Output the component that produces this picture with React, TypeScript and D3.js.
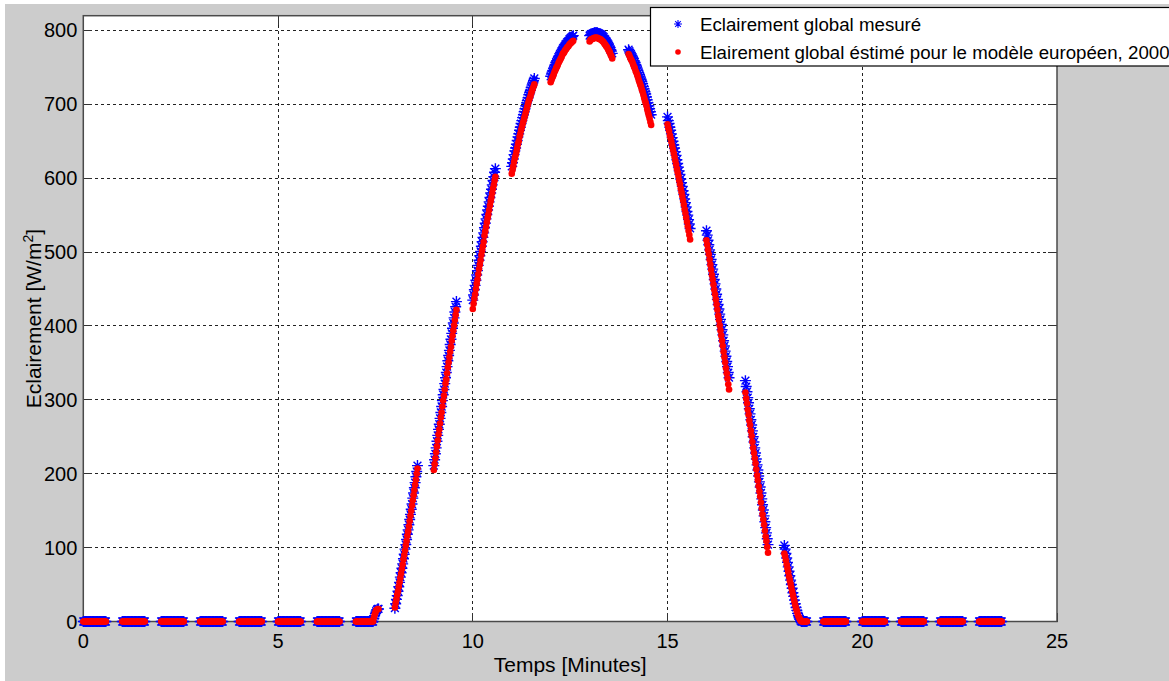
import React from 'react';
import * as d3 from 'd3';

// Minutes recorded within each hour (plotted as hour + minute/100).
const MINUTES = [0, 2, 4, 6, 8, 10, 12, 14, 16, 18, 20, 22, 24, 26, 28, 30, 32, 34, 36, 38, 40, 42, 44, 46, 48, 50, 52, 54, 56, 58];

// Hours with no sunlight: every reading is zero.
const NIGHT_HOURS = [0, 1, 2, 3, 4, 5, 6, 19, 20, 21, 22, 23];

// Daylight hours, one row of readings per hour.
const DAY_HOURS = [7, 8, 9, 10, 11, 12, 13, 14, 15, 16, 17, 18];

// Measured global irradiance (W/m²).
const MEASURED = [
  [0, 0, 0, 0, 0, 0, 0, 0, 0, 0, 0, 0, 0, 0, 0, 0, 0, 0, 0, 0, 0, 0, 0, 4, 8, 11, 14, 16, 17, 17],
  [18, 24, 30, 35, 41, 47, 53, 60, 66, 72, 78, 85, 91, 98, 104, 111, 118, 124, 131, 138, 145, 152, 159, 167, 174, 181, 188, 196, 203, 211],
  [211, 219, 227, 235, 244, 252, 260, 267, 275, 283, 291, 299, 307, 314, 322, 330, 337, 345, 353, 360, 367, 375, 382, 390, 397, 404, 411, 419, 426, 433],
  [435, 442, 449, 455, 462, 469, 475, 482, 489, 495, 501, 508, 514, 520, 526, 533, 539, 545, 551, 557, 562, 568, 574, 580, 585, 591, 597, 602, 608, 613],
  [616, 621, 626, 632, 637, 641, 646, 651, 656, 660, 665, 669, 674, 678, 682, 686, 690, 694, 698, 702, 705, 709, 713, 716, 719, 723, 726, 729, 732, 735],
  [738, 741, 744, 746, 749, 752, 754, 757, 759, 761, 764, 766, 768, 770, 772, 774, 776, 777, 779, 781, 782, 784, 785, 786, 788, 789, 790, 791, 792, 793],
  [793, 794, 795, 795, 796, 796, 797, 797, 797, 797, 797, 796, 796, 795, 795, 794, 793, 792, 791, 789, 788, 786, 785, 783, 781, 779, 777, 774, 772, 769],
  [774, 772, 770, 768, 766, 764, 762, 759, 757, 754, 752, 749, 746, 743, 740, 737, 734, 731, 728, 724, 721, 717, 714, 710, 706, 702, 698, 694, 690, 686],
  [683, 678, 674, 669, 665, 660, 655, 650, 645, 641, 636, 631, 625, 620, 615, 610, 605, 599, 594, 589, 583, 578, 572, 567, 561, 555, 550, 544, 538, 532],
  [529, 523, 516, 510, 503, 497, 490, 483, 477, 470, 463, 457, 450, 443, 436, 429, 423, 416, 409, 402, 395, 388, 380, 373, 366, 359, 352, 345, 337, 330],
  [326, 318, 311, 303, 296, 288, 281, 273, 266, 258, 250, 243, 235, 228, 220, 212, 205, 197, 189, 182, 174, 166, 158, 151, 143, 135, 127, 120, 112, 104],
  [103, 98, 92, 86, 80, 74, 68, 62, 56, 50, 45, 39, 34, 29, 24, 19, 15, 11, 8, 5, 3, 1, 0, 0, 0, 0, 0, 0, 0, 0],
];

// Global irradiance estimated with the European model, 2000 (W/m²).
const ESTIMATED = [
  [0, 0, 0, 0, 0, 0, 0, 0, 0, 0, 0, 0, 0, 0, 0, 0, 0, 0, 0, 0, 0, 0, 0, 5, 9, 12, 15, 16, 17, 17],
  [19, 25, 30, 36, 41, 47, 53, 59, 65, 71, 77, 84, 90, 96, 103, 109, 116, 122, 129, 136, 143, 150, 157, 164, 171, 178, 185, 192, 200, 207],
  [205, 213, 221, 229, 237, 245, 253, 260, 268, 276, 283, 291, 299, 306, 314, 322, 328, 336, 344, 351, 358, 365, 372, 380, 387, 394, 401, 408, 415, 422],
  [423, 430, 437, 443, 450, 457, 463, 470, 477, 483, 489, 496, 502, 508, 514, 522, 528, 534, 540, 546, 551, 557, 563, 569, 574, 580, 586, 591, 597, 602],
  [606, 611, 616, 622, 627, 631, 636, 641, 646, 650, 656, 660, 665, 669, 673, 677, 681, 685, 689, 693, 697, 701, 705, 708, 711, 715, 718, 721, 724, 727],
  [730, 733, 736, 738, 741, 744, 746, 749, 751, 753, 756, 758, 760, 762, 764, 767, 769, 770, 772, 774, 775, 777, 778, 779, 781, 782, 783, 784, 785, 786],
  [785, 787, 788, 788, 789, 789, 790, 790, 790, 790, 790, 789, 789, 788, 788, 787, 786, 785, 784, 782, 781, 779, 778, 776, 774, 772, 770, 767, 765, 762],
  [768, 766, 763, 761, 759, 757, 754, 751, 749, 745, 743, 740, 737, 733, 730, 727, 724, 720, 717, 713, 709, 705, 702, 698, 693, 689, 685, 681, 676, 672],
  [673, 668, 664, 658, 654, 649, 644, 639, 634, 629, 624, 619, 613, 608, 603, 597, 592, 586, 581, 576, 570, 564, 558, 553, 547, 541, 535, 529, 523, 517],
  [516, 510, 503, 497, 490, 483, 476, 469, 463, 456, 449, 443, 436, 429, 422, 414, 408, 401, 394, 387, 380, 373, 365, 358, 351, 343, 336, 329, 321, 314],
  [310, 302, 295, 287, 280, 272, 266, 258, 251, 243, 235, 228, 221, 214, 206, 198, 191, 183, 176, 169, 161, 153, 145, 138, 131, 123, 115, 109, 101, 93],
  [92, 88, 83, 77, 72, 67, 61, 56, 51, 46, 41, 36, 31, 27, 22, 18, 14, 10, 7, 5, 3, 1, 0, 0, 0, 0, 0, 0, 0, 0],
];

const X_TICKS = [0, 5, 10, 15, 20, 25];
const Y_TICKS = [0, 100, 200, 300, 400, 500, 600, 700, 800];

const LEGEND_LABELS = [
  'Eclairement global mesuré',
  'Elairement global éstimé pour le modèle européen, 2000',
];

const W = 1169;
const H = 681;
const FONT = '"Liberation Sans", Arial, Helvetica, sans-serif';

type Pt = { t: number; v: number };

function buildSeries(dayRows: number[][]): Pt[] {
  const pts: Pt[] = [];
  for (let h = 0; h < 24; h++) {
    const di = DAY_HOURS.indexOf(h);
    if (di < 0 && !NIGHT_HOURS.includes(h)) continue;
    MINUTES.forEach((m, i) => {
      pts.push({ t: h + m / 100, v: di >= 0 ? dayRows[di][i] : 0 });
    });
  }
  return pts;
}

// MATLAB-style '*' marker
const STAR = 'M-5.5,0H5.5M0,-5.5V5.5M-3.9,-3.9L3.9,3.9M-3.9,3.9L3.9,-3.9';

export default function App() {
  const x = d3.scaleLinear().domain([0, 25]).range([83.3, 1057]);
  const y = d3.scaleLinear().domain([0, 820]).range([621.5, 15.7]);
  const [x0, x1] = x.range();
  const [yb, yt] = y.range();

  const measured = buildSeries(MEASURED);
  const estimated = buildSeries(ESTIMATED);
  const tickLen = 9;

  return (
    <svg
      width={W}
      height={H}
      viewBox={`0 0 ${W} ${H}`}
      style={{ position: 'absolute', left: 0, top: 0, fontFamily: FONT }}
    >
      <rect x={0} y={0} width={W} height={H} fill="#ffffff" />
      <rect x={5} y={4} width={W - 5} height={H - 4} fill="#cccccc" />
      {/* plot area */}
      <rect x={x0} y={yt} width={x1 - x0} height={yb - yt} fill="#ffffff" />

      {/* dotted grid */}
      <g stroke="#222" strokeWidth={1} strokeDasharray="3,3" shapeRendering="crispEdges">
        {X_TICKS.filter((t) => t > 0 && t < 25).map((t) => (
          <line key={`gx${t}`} x1={x(t)} x2={x(t)} y1={yb} y2={yt} />
        ))}
        {Y_TICKS.filter((t) => t > 0).map((t) => (
          <line key={`gy${t}`} x1={x0} x2={x1} y1={y(t)} y2={y(t)} />
        ))}
      </g>

      {/* ticks on all four sides */}
      <g stroke="#333" strokeWidth={1} shapeRendering="crispEdges">
        {X_TICKS.map((t) => (
          <g key={`tx${t}`}>
            <line x1={x(t)} x2={x(t)} y1={yb} y2={yb - tickLen} />
            <line x1={x(t)} x2={x(t)} y1={yt} y2={yt + tickLen} />
          </g>
        ))}
        {Y_TICKS.map((t) => (
          <g key={`ty${t}`}>
            <line x1={x0} x2={x0 + tickLen} y1={y(t)} y2={y(t)} />
            <line x1={x1} x2={x1 - tickLen} y1={y(t)} y2={y(t)} />
          </g>
        ))}
      </g>

      {/* axes box */}
      <rect
        x={x0}
        y={yt}
        width={x1 - x0}
        height={yb - yt}
        fill="none"
        stroke="#4a4a4a"
        strokeWidth={1.5}
      />

      {/* measured series: blue asterisks */}
      <g stroke="#0000ff" strokeWidth={1.4} fill="none">
        {measured.map((p, i) => (
          <path key={`m${i}`} d={STAR} transform={`translate(${x(p.t)},${y(p.v)})`} />
        ))}
      </g>

      {/* estimated series: red dots */}
      <g fill="#ff0000">
        {estimated.map((p, i) => (
          <circle key={`e${i}`} cx={x(p.t)} cy={y(p.v)} r={3.3} />
        ))}
      </g>

      {/* tick labels */}
      <g fontSize={20} fill="#000">
        {Y_TICKS.map((t) => (
          <text key={`ly${t}`} x={x0 - 6} y={y(t) + 7} textAnchor="end">
            {t}
          </text>
        ))}
        {X_TICKS.map((t) => (
          <text key={`lx${t}`} x={x(t)} y={yb + 26} textAnchor="middle">
            {t}
          </text>
        ))}
      </g>

      {/* axis titles */}
      <text x={(x0 + x1) / 2} y={672} fontSize={21} textAnchor="middle" fill="#000">
        Temps [Minutes]
      </text>
      <text
        transform={`translate(41,${(yb + yt) / 2}) rotate(-90)`}
        fontSize={21}
        textAnchor="middle"
        fill="#000"
      >
        Eclairement [W/m<tspan dy={-8} fontSize={14}>2</tspan>
        <tspan dy={8}>]</tspan>
      </text>

      {/* legend */}
      <rect x={650.5} y={7.5} width={540} height={58.5} fill="#ffffff" stroke="#000" strokeWidth={1.2} />
      <path d="M-4,0H4M0,-4V4M-2.8,-2.8L2.8,2.8M-2.8,2.8L2.8,-2.8" transform="translate(678,24)" stroke="#0000ff" strokeWidth={1.1} fill="none" />
      <circle cx={678} cy={52} r={2.8} fill="#ff0000" />
      <g fontSize={18.7} fill="#000">
        <text x={700} y={30.5}>{LEGEND_LABELS[0]}</text>
        <text x={700} y={58.5}>{LEGEND_LABELS[1]}</text>
      </g>
    </svg>
  );
}
